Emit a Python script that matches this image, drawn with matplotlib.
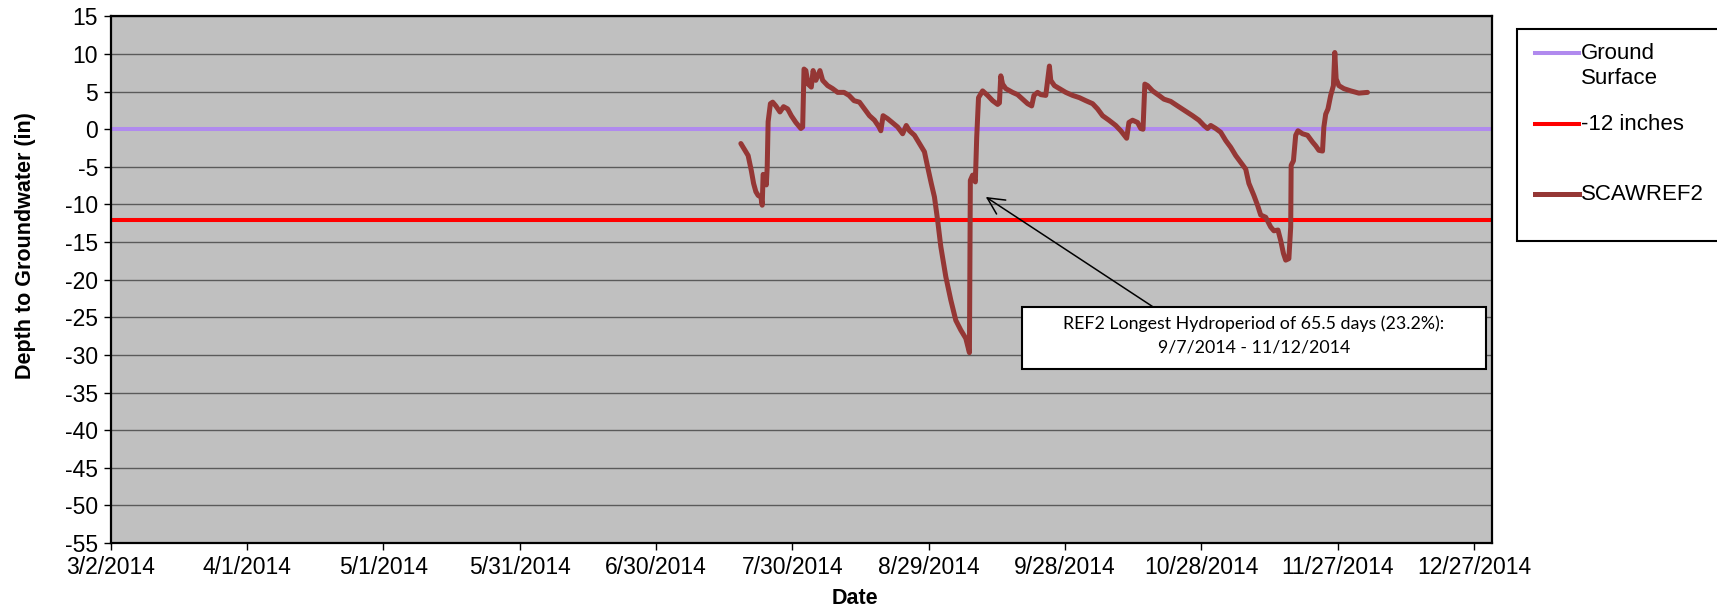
import numpy as np
import pandas as pd
import matplotlib
matplotlib.use('Agg')
import matplotlib.pyplot as plt
import matplotlib.dates as mdates
from matplotlib.patches import Rectangle
from matplotlib.lines import Line2D

plt.rcParams['font.family'] = 'Liberation Sans'
plt.rcParams['axes.unicode_minus'] = False

# axis range (Excel style: 30 day steps from 3/2/2014)
start = pd.Timestamp('2014-03-02')
end = pd.Timestamp('2014-12-31')
last_tick = pd.Timestamp('2014-12-27')

# well SCAWREF2 - days after 3/2/2014 and depth to groundwater (in)
day_offset = [138.7, 139.8, 140.3, 141.0, 141.5, 142.0, 142.5, 143.1, 143.4, 143.6,
              144.0, 144.3, 144.5, 144.7, 145.2, 145.7, 146.4, 147.3, 148.1, 149.0,
              149.8, 150.8, 151.9, 152.3, 152.6, 153.0, 153.5, 154.2, 154.6, 155.2,
              156.1, 156.7, 157.8, 158.9, 160.0, 161.4, 162.5, 163.6, 164.8, 165.9,
              167.0, 168.1, 169.1, 169.5, 170.0, 171.0, 172.0, 173.2, 174.3, 175.1,
              175.8, 176.9, 178.0, 179.1, 179.8, 180.6, 181.3, 182.0, 182.7, 183.8,
              184.9, 186.0, 187.1, 188.2, 189.0, 189.2, 189.7, 190.3, 190.6, 191.0,
              191.9, 193.0, 194.1, 195.2, 195.6, 195.9, 196.3, 197.0, 198.5, 199.6,
              200.7, 201.8, 202.7, 203.2, 204.0, 204.7, 205.8, 206.6, 206.9, 207.7,
              208.8, 210.2, 211.7, 213.2, 214.6, 216.1, 217.2, 218.3, 219.7, 221.2,
              222.3, 223.6, 224.1, 224.9, 226.0, 226.7, 227.2, 227.6, 228.2, 229.3,
              230.7, 231.8, 233.3, 234.8, 236.6, 238.1, 239.5, 240.6, 241.4, 242.1,
              243.2, 244.3, 245.4, 246.5, 247.6, 248.7, 249.8, 250.5, 251.6, 252.4,
              253.1, 254.2, 255.3, 256.0, 256.9, 257.5, 258.1, 258.6, 259.3, 259.7,
              259.8, 260.3, 260.8, 261.3, 262.3, 263.4, 264.5, 265.2, 265.9, 266.7,
              267.0, 267.4, 267.9, 268.5, 269.1, 269.4, 269.7, 270.3, 271.4, 272.9,
              274.7, 276.6]
depth_in = [-1.9, -3.0, -3.5, -5.5, -7.2, -8.3, -8.8, -9.0, -10.1, -6.0,
            -6.3, -7.4, -5.0, 1.0, 3.4, 3.6, 3.1, 2.3, 3.0, 2.7,
            1.8, 0.9, 0.1, 0.3, 8.0, 7.8, 6.0, 5.6, 7.8, 6.5,
            7.8, 6.5, 5.8, 5.4, 4.9, 4.9, 4.5, 3.8, 3.6, 2.7,
            1.8, 1.2, 0.3, -0.2, 1.8, 1.4, 0.9, 0.3, -0.6, 0.5,
            -0.2, -0.8, -1.9, -3.0, -5.0, -7.2, -9.0, -12.1, -15.6, -19.6,
            -22.7, -25.4, -26.7, -27.8, -29.7, -6.8, -6.1, -7.0, -1.1, 4.2,
            5.1, 4.5, 3.8, 3.3, 3.5, 7.1, 6.0, 5.4, 4.9, 4.6,
            4.0, 3.4, 3.1, 4.5, 4.9, 4.6, 4.5, 8.4, 6.5, 5.8,
            5.4, 4.9, 4.5, 4.2, 3.8, 3.4, 2.7, 1.8, 1.2, 0.5,
            -0.2, -1.2, 0.9, 1.2, 0.9, 0.1, 0.0, 6.0, 5.8, 5.1,
            4.5, 4.0, 3.7, 3.1, 2.4, 1.8, 1.2, 0.5, 0.1, 0.5,
            0.1, -0.4, -1.5, -2.4, -3.5, -4.4, -5.3, -7.2, -8.8, -10.1,
            -11.4, -11.7, -13.0, -13.5, -13.4, -14.8, -16.5, -17.4, -17.2, -13.0,
            -4.8, -4.2, -0.8, -0.2, -0.6, -0.8, -1.7, -2.2, -2.8, -2.9,
            0.3, 2.0, 2.7, 4.5, 5.8, 10.2, 6.7, 5.8, 5.4, 5.1,
            4.8, 4.9]

ground_surface = 0
threshold = -12
labels = ['Ground\nSurface', '-12 inches', 'SCAWREF2']
colors = ['#B08AEE', '#FF0000', '#953735']
widths = [2.9, 2.9, 3.6]

note_text = 'REF2 Longest Hydroperiod of 65.5 days (23.2%):\n9/7/2014 - 11/12/2014'

dates = start + pd.to_timedelta(day_offset, unit='D')

W, H = 1717, 610
fig = plt.figure(figsize=(W/100, H/100), dpi=100)
ax = fig.add_axes([110.6/W, 1-543/H, (1492-110.6)/W, (543-16.4)/H])
ax.set_facecolor('#C0C0C0')

ax.axhline(ground_surface, color=colors[0], lw=widths[0], zorder=2)
ax.axhline(threshold, color=colors[1], lw=widths[1], zorder=2)
ax.plot(dates, depth_in, color=colors[2], lw=widths[2], zorder=3,
        solid_joinstyle='round', solid_capstyle='round')

ax.set_xlim(start, end)
ax.set_ylim(-55, 15)
ax.set_yticks(np.arange(-55, 16, 5))
ticks = pd.date_range(start, last_tick, freq='30D')
ax.set_xticks(mdates.date2num(ticks))
ax.set_xticklabels([f'{d.month}/{d.day}/{d.year}' for d in ticks])

ax.yaxis.grid(True, color='#5A5A5A', lw=1.0)
ax.set_axisbelow(True)
for s in ax.spines.values():
    s.set_linewidth(1.6)
    s.set_color('black')
ax.tick_params(labelsize=16.5, length=5, width=1, pad=4)

ax.set_ylabel('Depth to Groundwater (in)', fontsize=15.5, fontweight='bold')
ax.yaxis.set_label_coords(-0.054, 0.564)
ax.set_xlabel('Date', fontsize=15.5, fontweight='bold')
ax.xaxis.set_label_coords(0.539, -0.085)

# legend drawn like the Excel one (box runs off the right edge)
fig.add_artist(Rectangle((1517/W, 1-241/H), (1740-1517)/W, (241-29)/H,
                         transform=fig.transFigure, fc='white', ec='black', lw=1.5))
for lab, col, lw, y_line, y_text in zip(labels, colors, widths,
                                         [53, 124, 194], [66, 124, 194]):
    fig.add_artist(Line2D([1535/W, 1579/W], [1-y_line/H]*2, color=col, lw=lw,
                          transform=fig.transFigure))
    fig.text(1581/W, 1-y_text/H, lab, va='center', ha='left', fontsize=16)

# note box with arrow
box_x0 = mdates.date2num(start + pd.Timedelta(days=200.6))
box_x1 = mdates.date2num(start + pd.Timedelta(days=302.7))
ax.add_patch(Rectangle((box_x0, -31.9), box_x1 - box_x0, 8.25, fc='white',
                       ec='black', lw=1.5, zorder=4))
ax.text((box_x0 + box_x1) / 2, -27.4, note_text, ha='center', va='center',
        fontsize=12.8, family='Lato', linespacing=1.6, zorder=5)
ax.annotate('', xy=(mdates.date2num(start + pd.Timedelta(days=192.6)), -9.0),
            xytext=(mdates.date2num(start + pd.Timedelta(days=229.5)), -23.65),
            arrowprops=dict(arrowstyle='->,head_length=0.6,head_width=0.3',
                            color='black', lw=1.1, shrinkA=0, shrinkB=0,
                            mutation_scale=20), zorder=5)

fig.savefig('out.png', dpi=100)
